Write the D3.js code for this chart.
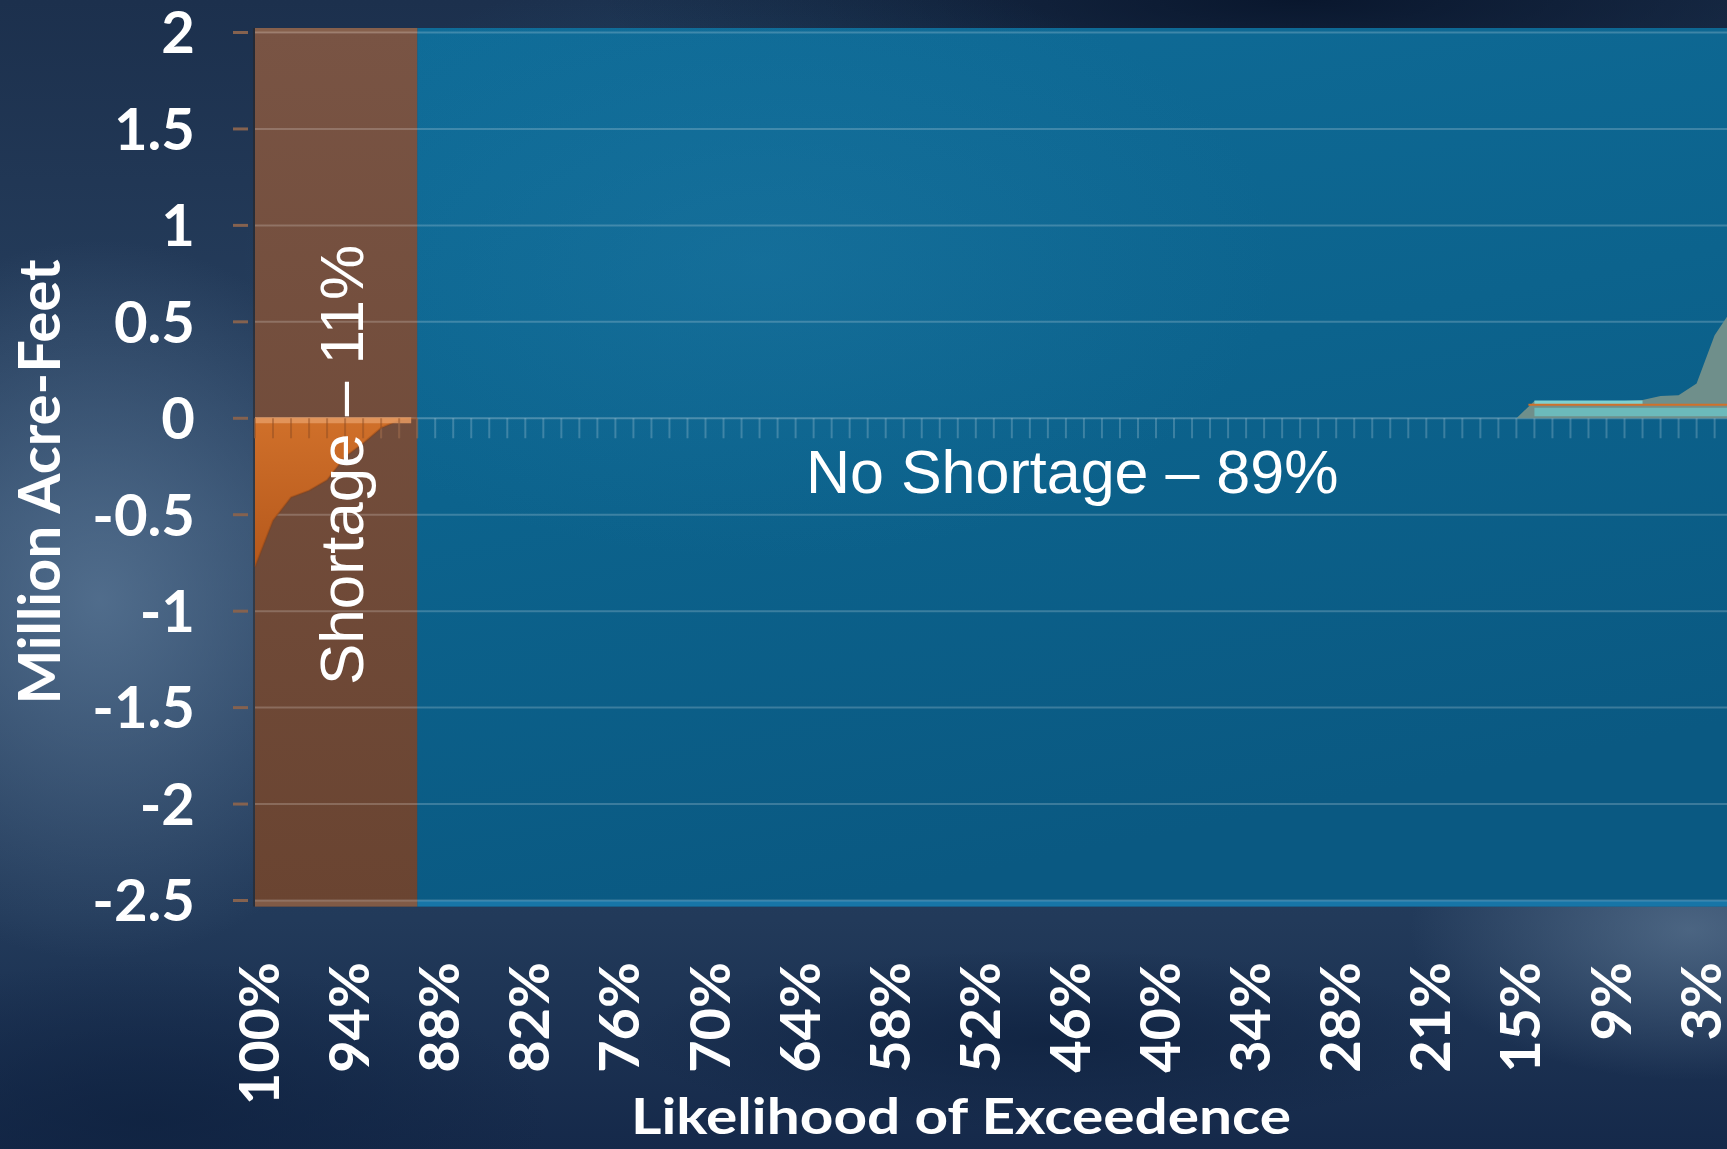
<!DOCTYPE html>
<html>
<head>
<meta charset="utf-8">
<script src="https://cdn.jsdelivr.net/npm/d3@7"></script>
<style>
  html, body { margin: 0; padding: 0; background: #1b2f4c; overflow: hidden; }
  svg { display: block; }
</style>
</head>
<body>
<svg id="chart" width="1727" height="1149"></svg>
<script>
// ---------------- DATA ----------------
const categoryCount = 84;                       // number of exceedence categories
const xTickLabels = ["100%","94%","88%","82%","76%","70%","64%","58%","52%","46%","40%","34%","28%","21%","15%","9%","3%"];
const xTickEvery = 5;                           // a label every 5th category
const yTicks = [2, 1.5, 1, 0.5, 0, -0.5, -1, -1.5, -2, -2.5];
const yTickLabels = ["2","1.5","1","0.5","0","-0.5","-1","-1.5","-2","-2.5"];

// shortage series (Million Acre-Feet), starting at category 0
const shortageStart = 0;
const shortageValues = [-0.77, -0.53, -0.41, -0.375, -0.32, -0.20, -0.13, -0.05, -0.01, 0];

// surplus series, starting at category 70
const surplusStart = 70;
const surplusValues = [0, 0.09, 0.09, 0.09, 0.09, 0.09, 0.09, 0.095, 0.115, 0.12, 0.18, 0.43, 0.57, 0.80];

// reference line series, starting at category 71
const refStart = 71;
const refValues = [0.07, 0.07, 0.07, 0.07, 0.07, 0.07, 0.07, 0.07, 0.07, 0.07, 0.07, 0.07, 0.07];

// shortage / no-shortage zone boundary (category index)
const zoneBoundary = 9;
const shortageLabel = "Shortage – 11%";
const noShortageLabel = "No Shortage – 89%";
const yTitle = "Million Acre-Feet";
const xTitle = "Likelihood of Exceedence";

// ---------------- LAYOUT ----------------
const W = 1727, H = 1149;
const svg = d3.select("#chart");
const x = d3.scaleLinear().domain([0, categoryCount - 1]).range([255, 255 + (categoryCount - 1) * 18.02]);
const y = d3.scaleLinear().domain([-2.5, 2]).range([900.5, 32.5]);

const defs = svg.append("defs");

// background gradients
const bg = defs.append("linearGradient").attr("id","bg").attr("x1",0).attr("y1",0).attr("x2",0).attr("y2",1);
bg.append("stop").attr("offset","0%").attr("stop-color","#1c304d");
bg.append("stop").attr("offset","45%").attr("stop-color","#2a4464");
bg.append("stop").attr("offset","80%").attr("stop-color","#223a5a");
bg.append("stop").attr("offset","100%").attr("stop-color","#15294a");

function radial(id, color, op) {
  const g = defs.append("radialGradient").attr("id", id);
  g.append("stop").attr("offset","0%").attr("stop-color",color).attr("stop-opacity",op);
  g.append("stop").attr("offset","100%").attr("stop-color",color).attr("stop-opacity",0);
}
radial("glowL", "#5a7796", 0.8);
radial("glowBR", "#6d88a3", 0.55);
radial("darkTR", "#07142a", 0.9);
radial("darkBL", "#0f2240", 0.8);

const blueG = defs.append("linearGradient").attr("id","blueG").attr("x1",0).attr("y1",0).attr("x2",0.3).attr("y2",1);
blueG.append("stop").attr("offset","0%").attr("stop-color","#0f6c98");
blueG.append("stop").attr("offset","50%").attr("stop-color","#0c638d");
blueG.append("stop").attr("offset","100%").attr("stop-color","#0a5982");
radial("blueGlow", "#2680ac", 0.3);

const brownG = defs.append("linearGradient").attr("id","brownG").attr("x1",0).attr("y1",0).attr("x2",0).attr("y2",1);
brownG.append("stop").attr("offset","0%").attr("stop-color","#795444");
brownG.append("stop").attr("offset","100%").attr("stop-color","#6a4431");

const orangeG = defs.append("linearGradient").attr("id","orangeG").attr("x1",0).attr("y1",0).attr("x2",0).attr("y2",1);
orangeG.append("stop").attr("offset","0%").attr("stop-color","#d0702a");
orangeG.append("stop").attr("offset","100%").attr("stop-color","#b5581c");

// background
svg.append("rect").attr("width",W).attr("height",H).attr("fill","url(#bg)");
svg.append("ellipse").attr("cx",100).attr("cy",600).attr("rx",320).attr("ry",360).attr("fill","url(#glowL)");
svg.append("ellipse").attr("cx",1690).attr("cy",930).attr("rx",280).attr("ry",150).attr("fill","url(#glowBR)");
svg.append("ellipse").attr("cx",1300).attr("cy",0).attr("rx",700).attr("ry",120).attr("fill","url(#darkTR)");
svg.append("ellipse").attr("cx",150).attr("cy",1120).attr("rx",400).attr("ry",160).attr("fill","url(#darkBL)");
svg.append("ellipse").attr("cx",1050).attr("cy",1040).attr("rx",420).attr("ry",90).attr("fill","url(#darkBL)");

// zones
const plotTop = y(2) - 4.5, plotBottom = y(-2.5) + 6;
svg.append("rect").attr("x", x(zoneBoundary)).attr("y", plotTop)
  .attr("width", W - x(zoneBoundary) + 10).attr("height", plotBottom - plotTop).attr("fill","url(#blueG)");
svg.append("ellipse").attr("cx",760).attr("cy",260).attr("rx",520).attr("ry",300).attr("fill","url(#blueGlow)");
svg.append("rect").attr("x", x(zoneBoundary)).attr("y", plotBottom - 6)
  .attr("width", W - x(zoneBoundary) + 10).attr("height", 6).attr("fill","#1a7cb0").attr("opacity",0.8);
svg.append("rect").attr("x", x(0)).attr("y", plotTop)
  .attr("width", x(zoneBoundary) - x(0)).attr("height", plotBottom - plotTop).attr("fill","url(#brownG)");
svg.append("rect").attr("x", x(0)).attr("y", plotTop)
  .attr("width", x(zoneBoundary) - x(0)).attr("height", 5).attr("fill","#86604c");
svg.append("rect").attr("x", x(0)).attr("y", plotBottom - 6)
  .attr("width", x(zoneBoundary) - x(0)).attr("height", 6).attr("fill","#86604c").attr("opacity",0.8);

// gridlines
svg.append("g").selectAll("line").data(yTicks.filter(d => d !== 0)).join("line")
  .attr("x1", x(0)).attr("x2", W).attr("y1", d => y(d)).attr("y2", d => y(d))
  .attr("stroke","#ffffff").attr("stroke-opacity",0.2).attr("stroke-width",2);

// y-axis ticks
svg.append("g").selectAll("line").data(yTicks).join("line")
  .attr("x1", 233).attr("x2", 248).attr("y1", d => y(d)).attr("y2", d => y(d))
  .attr("stroke","#85624f").attr("stroke-width",3);

// left axis line
svg.append("line").attr("x1", x(0) - 1).attr("x2", x(0) - 1).attr("y1", plotTop).attr("y2", plotBottom)
  .attr("stroke","#2a2422").attr("stroke-opacity",0.55).attr("stroke-width",2);

// zero line & category ticks
svg.append("line").attr("x1", x(0)).attr("x2", W).attr("y1", y(0)).attr("y2", y(0))
  .attr("stroke","#ffffff").attr("stroke-opacity",0.25).attr("stroke-width",2);
svg.append("g").selectAll("line").data(d3.range(categoryCount)).join("line")
  .attr("x1", d => x(d)).attr("x2", d => x(d)).attr("y1", y(0)).attr("y2", y(0) + 20)
  .attr("stroke","#ffffff").attr("stroke-opacity",0.2).attr("stroke-width",2);

// shortage area
const shortData = shortageValues.map((v, i) => ({i: shortageStart + i, v}));
const area = d3.area().x(d => x(d.i)).y0(y(0)).y1(d => y(d.v));
svg.append("path").datum(shortData).attr("d", area).attr("fill","url(#orangeG)");
svg.append("path").datum(shortData).attr("d", d3.line().x(d => x(d.i)).y(d => y(d.v)))
  .attr("fill","none").attr("stroke","#8a3f12").attr("stroke-opacity",0.35).attr("stroke-width",2);
svg.append("rect").attr("x", x(shortageStart)).attr("y", y(0) - 1)
  .attr("width", x(shortageStart + shortageValues.length - 1) - x(shortageStart) - 6).attr("height", 6)
  .attr("fill","#e59a62").attr("opacity",0.85);
svg.append("g").selectAll("line").data(d3.range(shortageStart, shortageStart + shortageValues.length)).join("line")
  .attr("x1", d => x(d)).attr("x2", d => x(d)).attr("y1", y(0)).attr("y2", y(0) + 20)
  .attr("stroke","#8a4a22").attr("stroke-opacity",0.45).attr("stroke-width",2);

// surplus area
const surData = surplusValues.map((v, i) => ({i: surplusStart + i, v}));
svg.append("path").datum(surData).attr("d", area).attr("fill","#6f8f8b");
const lowBand = d3.area().x(d => x(d.i)).y0(y(0.01)).y1(y(0.055));
svg.append("path").datum(surData.filter(d => d.v > 0)).attr("d", lowBand).attr("fill","#6cbfc0").attr("opacity",0.9);
svg.append("path").datum(surData.filter(d => d.v > 0 && d.v < 0.1))
  .attr("d", d3.line().x(d => x(d.i)).y(y(0.083)))
  .attr("fill","none").attr("stroke","#7fd0d0").attr("stroke-width",3.5);
const refData = refValues.map((v, i) => ({i: refStart + i, v}));
svg.append("path").datum(refData).attr("d", d3.line().x(d => x(d.i) - 6).y(d => y(d.v)))
  .attr("fill","none").attr("stroke","#d0702a").attr("stroke-width",2);

// y tick labels
svg.append("g").selectAll("text").data(yTicks).join("text")
  .attr("x", 195).attr("y", d => y(d)).attr("dy","0.36em")
  .attr("text-anchor","end").attr("fill","#ffffff")
  .attr("font-family","Lato, sans-serif").attr("font-weight","bold").attr("font-size",58)
  .text((d, i) => yTickLabels[i]);

// x tick labels
svg.append("g").selectAll("text").data(xTickLabels).join("text")
  .attr("transform", (d, i) => `translate(${x(i * xTickEvery) + 24},962) rotate(-90)`)
  .attr("text-anchor","end").attr("fill","#ffffff")
  .attr("font-family","Lato, sans-serif").attr("font-weight","bold").attr("font-size",56)
  .text(d => d);

// axis titles
svg.append("text").attr("transform","translate(60,482) rotate(-90)")
  .attr("text-anchor","middle").attr("fill","#ffffff")
  .attr("font-family","Lato, sans-serif").attr("font-weight","bold").attr("font-size",58)
  .text(yTitle);
svg.append("text").attr("x", 631).attr("y", 1134)
  .attr("textLength", 660).attr("lengthAdjust","spacingAndGlyphs")
  .attr("fill","#ffffff")
  .attr("font-family","Lato, sans-serif").attr("font-weight","bold").attr("font-size",50)
  .text(xTitle);

// zone labels
svg.append("text").attr("transform","translate(363,465) rotate(-90)")
  .attr("text-anchor","middle").attr("fill","#ffffff")
  .attr("font-family","'Liberation Sans', Arial, sans-serif").attr("font-size",62)
  .text(shortageLabel);
svg.append("text").attr("x", 806).attr("y", 493)
  .attr("fill","#ffffff")
  .attr("font-family","'Liberation Sans', Arial, sans-serif").attr("font-size",61)
  .text(noShortageLabel);
</script>
</body>
</html>
